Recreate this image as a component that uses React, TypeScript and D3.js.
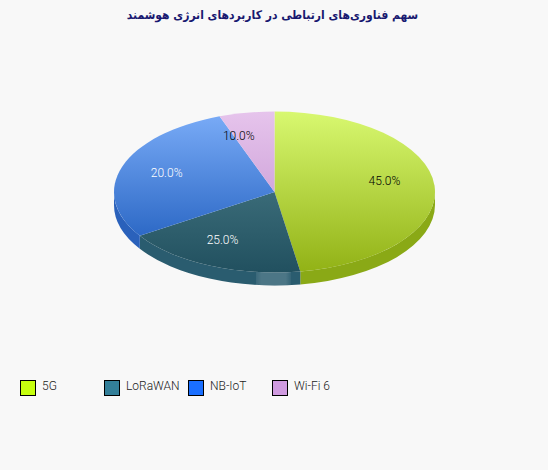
import * as d3 from "d3";

const WIDTH = 548;
const HEIGHT = 470;
const CX = 274.5;
const CY = 192;
const RX = 160.5;
const RY = 80.5;
const DEPTH = 13;
const LABEL_RADIUS = 0.7;

const TITLE = "سهم فناوری‌های ارتباطی در کاربردهای انرژی هوشمند";
const categories = ["5G", "LoRaWAN", "NB-IoT", "Wi-Fi 6"];
const shares = [45, 25, 20, 10];
const legendColors = ["#c6ff0f", "#337f99", "#1a6fff", "#d09be0"];
const topStart = ["#d8f870", "#3a6b78", "#78aaf6", "#e6c4ec"];
const topEnd = ["#92b216", "#21505f", "#2d69c6", "#d2a8dc"];
const sideColors = ["#8aa916", "#2a5c6f", "#2a61bb", "#c49ad0"];
const labelColors = ["#000000", "#ffffff", "#ffffff", "#000000"];

// the slices are cut at their real angle, then the ray is followed to the ellipse
function rim(angle: number) {
  const s = Math.sin(angle);
  const c = Math.cos(angle);
  const r = 1 / Math.sqrt((s / RX) ** 2 + (c / RY) ** 2);
  return [r * s, -r * c];
}

function topPath(a0: number, a1: number) {
  const [x0, y0] = rim(a0);
  const [x1, y1] = rim(a1);
  const large = a1 - a0 > Math.PI ? 1 : 0;
  return `M0,0L${x0},${y0}A${RX},${RY} 0 ${large} 1 ${x1},${y1}Z`;
}

function sidePath(a0: number, a1: number) {
  const from = Math.max(a0, Math.PI / 2);
  const to = Math.min(a1, (3 * Math.PI) / 2);
  if (to <= from) return null;
  const [x0, y0] = rim(from);
  const [x1, y1] = rim(to);
  return (
    `M${x0},${y0}A${RX},${RY} 0 0 1 ${x1},${y1}` +
    `L${x1},${y1 + DEPTH}A${RX},${RY} 0 0 0 ${x0},${y0 + DEPTH}Z`
  );
}

export default function App() {
  const slices = d3
    .pie<number>()
    .sort(null)(shares);
  const legendX = d3
    .scaleLinear()
    .domain([0, categories.length - 1])
    .range([20, 272]);

  return (
    <svg
      width={WIDTH}
      height={HEIGHT}
      style={{ position: "fixed", left: 0, top: 0, background: "#f8f8f8" }}
    >
      <defs>
        {categories.map((c, i) => (
          <linearGradient key={c} id={`top-${i}`} x1={0} x2={0} y1={0} y2={1}>
            <stop offset="0%" stopColor={topStart[i]} />
            <stop offset="100%" stopColor={topEnd[i]} />
          </linearGradient>
        ))}
        <linearGradient id="shine" x1={0} x2={1} y1={0} y2={0}>
          <stop offset="0%" stopColor="#ffffff" stopOpacity={0.08} />
          <stop offset="15%" stopColor="#ffffff" stopOpacity={0.16} />
          <stop offset="85%" stopColor="#ffffff" stopOpacity={0.16} />
          <stop offset="100%" stopColor="#ffffff" stopOpacity={0.05} />
        </linearGradient>
      </defs>
      <text
        x={272.5}
        y={19}
        textAnchor="middle"
        direction="rtl"
        fontFamily="'DejaVu Sans'"
        fontSize={12}
        fontStretch="condensed"
        fontWeight={700}
        fill="#191970"
      >
        {TITLE}
      </text>
      <g transform={`translate(${CX},${CY})`}>
        {slices.map((d, i) => {
          const side = sidePath(d.startAngle, d.endAngle);
          return side ? <path key={i} d={side} fill={sideColors[i]} /> : null;
        })}
        <rect x={-18.5} y={79} width={35} height={14} fill="url(#shine)" />
        {slices.map((d, i) => (
          <path key={i} d={topPath(d.startAngle, d.endAngle)} fill={`url(#top-${i})`} />
        ))}
        {slices.map((d, i) => {
          const mid = (d.startAngle + d.endAngle) / 2;
          return (
            <text
              key={i}
              x={Math.sin(mid) * RX * LABEL_RADIUS - 1}
              y={-Math.cos(mid) * RY * LABEL_RADIUS + 2}
              textAnchor="middle"
              fontFamily="Roboto"
              fontSize={12}
              fontWeight={300}
              fill={labelColors[i]}
            >
              {`${d.value.toFixed(1)}%`}
            </text>
          );
        })}
      </g>
      {categories.map((c, i) => (
        <g key={c} transform={`translate(${legendX(i)},380)`}>
          <rect x={0.5} y={0.5} width={15} height={15} fill={legendColors[i]} stroke="#000000" />
          <text x={22} y={10} fontFamily="Roboto" fontSize={12} fontWeight={300} fill="#222222">
            {c}
          </text>
        </g>
      ))}
    </svg>
  );
}
